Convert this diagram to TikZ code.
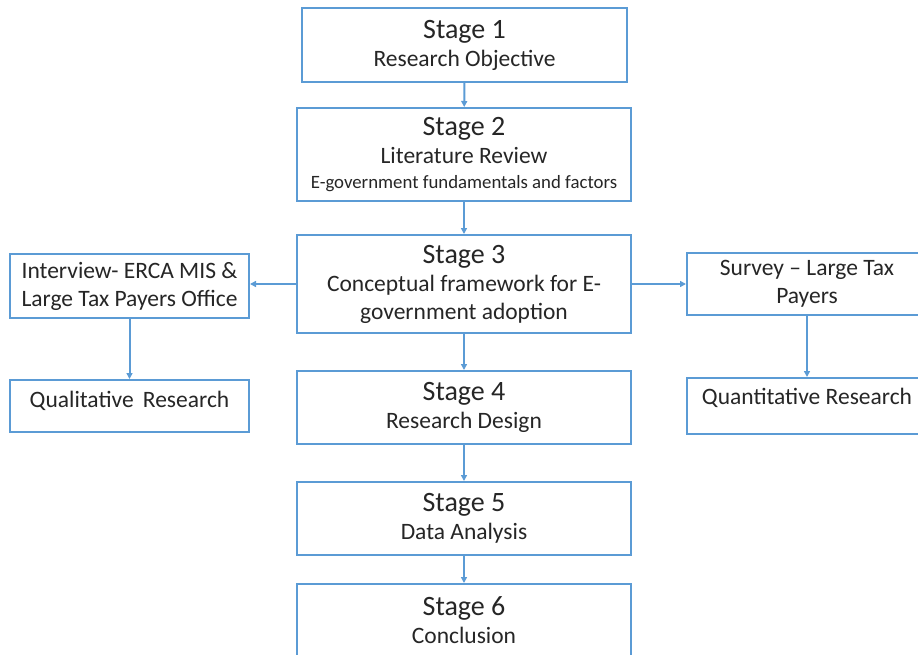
\documentclass[tikz,border=0pt]{standalone}
\usepackage{fontspec}
\setmainfont{Carlito}
\usetikzlibrary{arrows.meta}
\definecolor{boxblue}{RGB}{91,155,213}
\definecolor{txt}{RGB}{38,38,38}
\begin{document}
\begin{tikzpicture}[x=1pt,y=-1pt,
  stagebox/.style={draw=boxblue,line width=2pt,fill=white,align=center,text=txt,
    font=\fontsize{23.5}{28}\selectfont,inner sep=0pt},
  conn/.style={draw=boxblue,line width=2pt,-{Triangle[length=6pt,width=6pt]}}]
\useasboundingbox (0,0) rectangle (918,655);
\clip (0,0) rectangle (918,655);
\newcommand{\stg}[1]{{\fontsize{28}{28}\selectfont #1}}
\node[stagebox,minimum width=325,minimum height=74] (s1) at (464.5,45)
  {\stg{Stage 1}\\Research Objective};
\node[stagebox,minimum width=334,minimum height=93] (s2) at (464,154.5)
  {\stg{Stage 2}\\Literature Review\\[-3pt]{\fontsize{18.8}{20}\selectfont E-government fundamentals and factors}};
\node[stagebox,minimum width=334,minimum height=98] (s3) at (464,284)
  {\stg{Stage 3}\\Conceptual framework for E-\\government adoption};
\node[stagebox,minimum width=334,minimum height=73] (s4) at (464,407.5)
  {\stg{Stage 4}\\Research Design};
\node[stagebox,minimum width=334,minimum height=73] (s5) at (464,518.5)
  {\stg{Stage 5}\\Data Analysis};
\node[stagebox,minimum width=334,minimum height=73] (s6) at (464,620.5)
  {\stg{Stage 6}\\Conclusion};
\node[stagebox,minimum width=239,minimum height=64] (iv) at (129.5,286)
  {Interview- ERCA MIS \&\\Large Tax Payers Office};
\node[stagebox,minimum width=239,minimum height=52,text height=15pt,text depth=13pt] (ql) at (129.5,406)
  {Qualitative\, Research};
\node[stagebox,minimum width=240,minimum height=62] (sv) at (807,284)
  {Survey -- Large Tax\\Payers};
\node[stagebox,minimum width=240,minimum height=56,text height=15pt,text depth=18pt] (qn) at (807,406)
  {Quantitative Research};
\draw[conn] (s1) -- (s2);
\draw[conn] (s2) -- (s3);
\draw[conn] (s3) -- (s4);
\draw[conn] (s4) -- (s5);
\draw[conn] (s5) -- (s6);
\draw[conn] (s3.west) -- (s3.west -| iv.east);
\draw[conn] (s3.east) -- (s3.east -| sv.west);
\draw[conn] (iv) -- (ql);
\draw[conn] (sv) -- (qn);
\end{tikzpicture}
\end{document}
